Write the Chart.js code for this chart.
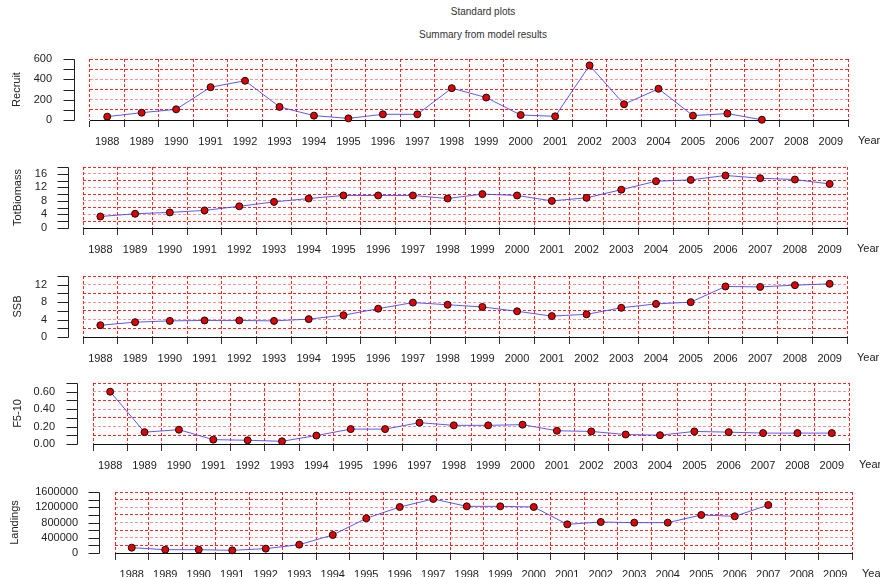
<!DOCTYPE html>
<html>
<head>
<meta charset="utf-8">
<script src="https://cdn.jsdelivr.net/npm/chart.js@4.4.0/dist/chart.umd.min.js"></script>
<style>
  body { margin: 0; background: #fff; width: 880px; height: 577px; position: relative; overflow: hidden; font-family: "Liberation Sans", Arial, sans-serif; }
  .ttl { position: absolute; left: 0; width: 966px; text-align: center; font-size: 10px; color: #333; }
  canvas { position: absolute; left: 0; }
</style>
</head>
<body>
<div class="ttl" style="top:6px">Standard plots</div>
<div class="ttl" style="top:29px">Summary from model results</div>
<canvas id="c1"></canvas>
<canvas id="c2"></canvas>
<canvas id="c3"></canvas>
<canvas id="c4"></canvas>
<canvas id="c5"></canvas>
<script>
// data
const years = ['1988', '1989', '1990', '1991', '1992', '1993', '1994', '1995', '1996', '1997', '1998',
               '1999', '2000', '2001', '2002', '2003', '2004', '2005', '2006', '2007', '2008', '2009'];
const recruit = [33, 72, 105, 323, 386, 129, 43, 16, 56, 56, 313, 221, 49, 36, 537, 155, 307, 43, 63, 2, null, null];
const totBiomass = [3.4, 4.2, 4.6, 5.2, 6.4, 7.7, 8.7, 9.6, 9.6, 9.6, 8.7, 10.0, 9.6, 8.0, 8.9, 11.3, 13.8, 14.2, 15.5, 14.7, 14.3, 13.0];
const ssb = [2.7, 3.4, 3.7, 3.8, 3.8, 3.7, 4.1, 5.0, 6.5, 7.9, 7.4, 6.9, 5.9, 4.8, 5.2, 6.7, 7.6, 8.0, 11.6, 11.5, 11.9, 12.2];
const f510 = [0.60, 0.136, 0.164, 0.05, 0.043, 0.031, 0.097, 0.171, 0.171, 0.245, 0.214, 0.214, 0.222, 0.152, 0.144, 0.109, 0.101, 0.144, 0.136, 0.125, 0.125, 0.125];
const landings = [140000, 87000, 87000, 70000, 114000, 219000, 472000, 909000, 1207000, 1416000, 1224000,
                  1224000, 1207000, 752000, 813000, 796000, 796000, 997000, 962000, 1259000, null, null];
const xTitle = 'Year';

// panel layout (pixel boxes of each R panel)
const panels = [
    { id: 'c1', title: 'Recruit',    data: recruit,    max: 600,     step: 100,    dec: 0, top: 45,  h: 110, area: [90, 59, 848, 120],  axisX: 74, labelRight: 52, titleX: 17 },
    { id: 'c2', title: 'TotBiomass', data: totBiomass, max: 18,      step: 2,      dec: 0, top: 155, h: 110, area: [83, 167, 847, 228], axisX: 68, labelRight: 47, titleX: 18 },
    { id: 'c3', title: 'SSB',        data: ssb,        max: 14,      step: 2,      dec: 0, top: 265, h: 108, area: [83, 276, 847, 337], axisX: 68, labelRight: 47, titleX: 18 },
    { id: 'c4', title: 'F5-10',      data: f510,       max: 0.7,     step: 0.1,    dec: 2, top: 373, h: 109, area: [93, 383, 849, 444], axisX: 77, labelRight: 55, titleX: 18 },
    { id: 'c5', title: 'Landings',   data: landings,   max: 1600000, step: 200000, dec: 0, top: 482, h: 95,  area: [115, 492, 852, 553], axisX: 99, labelRight: 78, titleX: 15 }
];

const FONT = { family: '"Liberation Sans", Arial, sans-serif', size: 11 };
const TXT = '#222';

// R style detached y axis + "Year" label
const rAxis = {
    id: 'rAxis',
    afterDraw(chart, args, opts) {
        const ys = chart.scales.y, ca = chart.chartArea, ctx = chart.ctx;
        const ax = opts.axisX + 0.5;
        ctx.save();
        ctx.strokeStyle = '#222';
        ctx.lineWidth = 1;
        ctx.beginPath();
        ctx.moveTo(ax, Math.round(ys.getPixelForValue(ys.min)) + 0.5);
        ctx.lineTo(ax, Math.round(ys.getPixelForValue(ys.max)) + 0.5);
        ys.ticks.forEach(t => {
            const py = Math.round(ys.getPixelForValue(t.value)) + 0.5;
            ctx.moveTo(ax - 11, py);
            ctx.lineTo(ax, py);
        });
        ctx.stroke();
        ctx.fillStyle = TXT;
        ctx.font = FONT.size + 'px ' + FONT.family;
        ctx.textBaseline = 'middle';
        ctx.fillText(xTitle, ca.right + 10, ca.bottom + 21);
        ctx.restore();
    }
};

panels.forEach(p => {
    const cv = document.getElementById(p.id);
    cv.width = 880;
    cv.height = p.h;
    cv.style.top = p.top + 'px';
    const [left, top, right, bottom] = p.area;

    new Chart(cv.getContext('2d'), {
        type: 'line',
        data: {
            labels: years,
            datasets: [{
                data: p.data,
                borderColor: 'rgba(60,60,255,0.85)',
                borderWidth: 1,
                pointRadius: 3.5,
                pointBackgroundColor: '#e00000',
                pointBorderColor: '#111',
                pointBorderWidth: 1,
                tension: 0,
                clip: false
            }]
        },
        options: {
            responsive: false,
            animation: false,
            devicePixelRatio: 1,
            layout: { padding: { left: 0, top: top - p.top, right: 880 - right, bottom: 0 } },
            plugins: { legend: { display: false }, tooltip: { enabled: false }, rAxis: { axisX: p.axisX } },
            scales: {
                x: {
                    offset: true,
                    grid: { offset: true, color: 'rgba(255,0,0,0.85)', lineWidth: 1, drawTicks: true, tickLength: 7, tickColor: '#333', tickWidth: 1 },
                    border: { display: true, color: '#111', width: 1, dash: [3, 2] },
                    ticks: { padding: 8, maxRotation: 0, autoSkip: false, color: TXT, font: FONT },
                    afterFit: s => { s.height = p.top + p.h - bottom; }
                },
                y: {
                    min: 0,
                    max: p.max,
                    ticks: {
                        stepSize: p.step,
                        autoSkip: false,
                        padding: 0,
                        color: TXT,
                        font: FONT,
                        callback: v => (Math.round(v / p.step) % 2 === 0 ? v.toFixed(p.dec) : '')
                    },
                    grid: {
                        drawTicks: true,
                        tickLength: left - p.labelRight,
                        tickColor: 'rgba(0,0,0,0)',
                        lineWidth: 1,
                        color: c => {
                            const k = Math.round(c.tick.value / p.step);
                            if (k === 0) return 'rgba(0,0,0,0)';
                            return (k % 2 === 1 || c.tick.value === p.max) ? 'rgba(255,0,0,0.85)' : 'rgba(255,60,60,0.55)';
                        }
                    },
                    border: { display: false, dash: [3, 2] },
                    title: { display: true, text: p.title, color: TXT, font: FONT, padding: { top: p.titleX - 6.6, bottom: 0 } },
                    afterFit: s => { s.width = left; }
                }
            }
        },
        plugins: [rAxis]
    });
});
</script>
</body>
</html>
